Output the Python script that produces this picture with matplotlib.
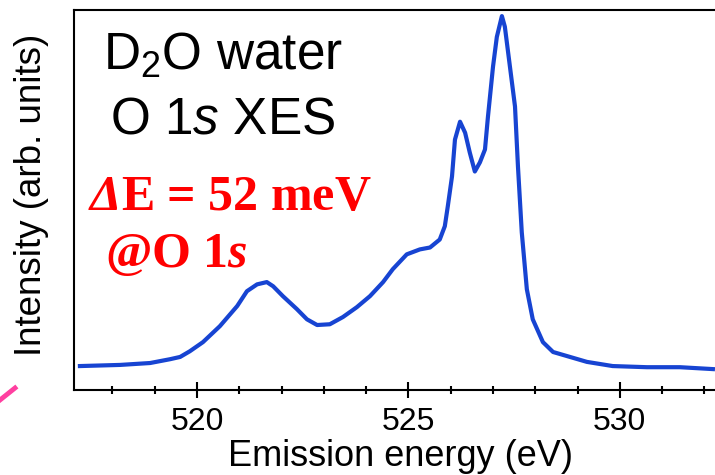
import matplotlib
matplotlib.use("Agg")
import matplotlib.pyplot as plt
from matplotlib.ticker import MultipleLocator
from matplotlib.lines import Line2D

plt.rcParams['font.family'] = ['Liberation Sans', 'DejaVu Sans']
plt.rcParams['mathtext.fontset'] = 'custom'
plt.rcParams['mathtext.rm'] = 'Liberation Sans'
plt.rcParams['mathtext.it'] = 'Liberation Sans:italic'
plt.rcParams['mathtext.bf'] = 'Liberation Serif:bold'
plt.rcParams['mathtext.bfit'] = 'Liberation Serif:italic:bold'

# O 1s XES spectrum of liquid D2O
energy = [517.23, 518.18, 518.89, 519.36, 519.60, 519.83, 520.14, 520.54,
          520.95, 521.18, 521.42, 521.65, 521.80, 522.03, 522.36, 522.60,
          522.84, 523.14, 523.45, 523.78, 524.09, 524.40, 524.63, 524.96,
          525.27, 525.51, 525.74, 525.86, 525.93, 526.03, 526.10, 526.22,
          526.34, 526.45, 526.57, 526.69, 526.81, 526.88, 527.00, 527.09,
          527.21, 527.28, 527.40, 527.52, 527.59, 527.68, 527.80, 527.94,
          528.18, 528.42, 528.82, 529.22, 529.83, 530.64, 531.42, 532.20]
intensity = [6.3, 6.6, 7.1, 8.1, 8.7, 10.2, 12.6, 16.8,
             22.1, 26.0, 27.8, 28.4, 27.3, 24.7, 21.3, 18.6,
             17.1, 17.3, 19.2, 21.8, 24.7, 28.4, 31.8, 35.7,
             37.0, 37.5, 39.6, 43.1, 48.3, 56.2, 65.9, 70.6,
             67.7, 62.5, 57.5, 59.9, 63.3, 71.9, 85.1, 92.9,
             98.4, 95.6, 85.1, 74.6, 58.8, 41.5, 26.5, 18.6,
             12.6, 10.0, 8.7, 7.4, 6.3, 6.0, 6.0, 5.5]

xticks = [520, 525, 530]

fig = plt.figure(figsize=(7.15, 4.75), dpi=100)
ax = fig.add_axes([74/715, 1-390/475, 1-74/715, (390-10)/475])

ax.plot(energy, intensity, color='#1744d2', lw=3, solid_joinstyle='round')

ax.set_xlim(517.09, 532.25)
ax.set_ylim(0, 100)
ax.xaxis.set_major_locator(MultipleLocator(5))
ax.xaxis.set_minor_locator(MultipleLocator(1))
ax.set_xticks(xticks)
ax.set_yticks([])
ax.tick_params(axis='x', which='major', direction='inout', length=11, width=1.5,
               labelsize=23, pad=6.5)
ax.tick_params(axis='x', which='minor', direction='inout', length=6, width=1.5)
ax.spines['right'].set_visible(False)
for s in ('left', 'top', 'bottom'):
    ax.spines[s].set_linewidth(1.5)

fig.text(400/715, 1-466/475, 'Emission energy (eV)', fontsize=26,
         ha='center', va='baseline')
fig.text(32/715, 1-195/475, 'Intensity (arb. units)', fontsize=26.5,
         rotation=90, ha='center', va='center')

fig.text(103/715, 1-70/475, 'D$_2$O water', fontsize=37, va='baseline')
fig.text(110/715, 1-133/475, 'O 1$s$ XES', fontsize=37, va='baseline')
fig.text(88/715, 1-210/475, r'$\mathbfit{\Delta}$E = 52 meV', fontsize=36,
         family='Liberation Serif', weight='bold', color='red', va='baseline')
fig.text(105/715, 1-267/475, r'@O 1$\mathbfit{s}$', fontsize=36,
         family='Liberation Serif', weight='bold', color='red', va='baseline')

# leftover arrow stub in the lower left corner
fig.add_artist(Line2D([0/715, 15/715], [1-400/475, 1-388/475],
                      transform=fig.transFigure, color='#ff3fa0', lw=3.5))

fig.savefig('out.png', dpi=100)
